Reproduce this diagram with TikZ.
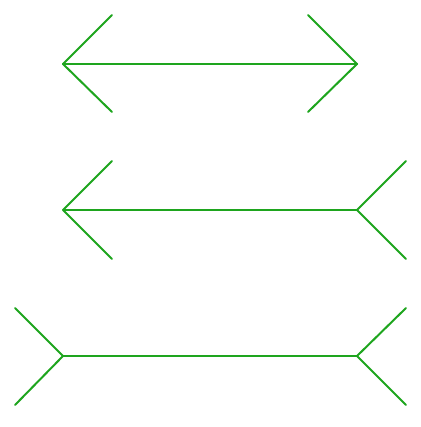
\documentclass[tikz,border=0pt]{standalone}
\usepackage{tikz}
\definecolor{fingreen}{RGB}{30,165,30}

\begin{document}
\begin{tikzpicture}[x=1pt,y=-1pt,line width=2pt,line cap=round,line join=round]
  \tikzstyle{shaft}=[draw=fingreen]
  \tikzstyle{fin}=[draw=fingreen]
  \useasboundingbox (0,0) rectangle (420,427);

  % top: both fins inward
  \coordinate (a1) at (63,64);
  \coordinate (a2) at (357,64);
  \coordinate (a1u) at (112,15);
  \coordinate (a1d) at (112,112);
  \coordinate (a2u) at (308,15);
  \coordinate (a2d) at (308,112);

  % middle: left inward, right outward
  \coordinate (b1) at (63,210);
  \coordinate (b2) at (357,210);
  \coordinate (b1u) at (112,161);
  \coordinate (b1d) at (112,259);
  \coordinate (b2u) at (406,161);
  \coordinate (b2d) at (406,259);

  % bottom: both fins outward
  \coordinate (c1) at (63,356);
  \coordinate (c2) at (357,356);
  \coordinate (c1u) at (15,308);
  \coordinate (c1d) at (15,405);
  \coordinate (c2u) at (406,308);
  \coordinate (c2d) at (406,405);

  \path[shaft] (a1) -- (a2);
  \path[fin] (a1u) -- (a1) -- (a1d);
  \path[fin] (a2u) -- (a2) -- (a2d);

  \path[shaft] (b1) -- (b2);
  \path[fin] (b1u) -- (b1) -- (b1d);
  \path[fin] (b2u) -- (b2) -- (b2d);

  \path[shaft] (c1) -- (c2);
  \path[fin] (c1u) -- (c1) -- (c1d);
  \path[fin] (c2u) -- (c2) -- (c2d);
\end{tikzpicture}
\end{document}
